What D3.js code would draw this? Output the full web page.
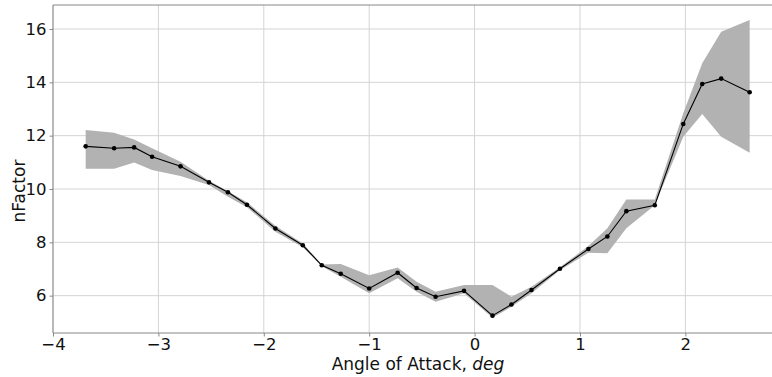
<!DOCTYPE html>
<html>
<head>
<meta charset="utf-8">
<script src="https://cdn.jsdelivr.net/npm/d3@7"></script>
<style>
  html, body { margin: 0; padding: 0; background: #fff; }
  svg { display: block; font-family: "DejaVu Sans", sans-serif; }
</style>
</head>
<body>
<svg id="chart" width="772" height="377"></svg>
<script>
// Angle of attack (deg) and the mean nFactor at each angle
const aoa = [-3.69, -3.42, -3.23, -3.06, -2.79, -2.52, -2.34, -2.16, -1.89, -1.63,
             -1.45, -1.27, -1.00, -0.73, -0.55, -0.37, -0.10, 0.17, 0.35, 0.54,
             0.81, 1.08, 1.26, 1.44, 1.71, 1.98, 2.16, 2.34, 2.61];
const nFactor = [11.60, 11.53, 11.56, 11.21, 10.85, 10.25, 9.88, 9.41, 8.52, 7.89,
                 7.14, 6.82, 6.27, 6.86, 6.29, 5.96, 6.18, 5.25, 5.67, 6.21,
                 7.01, 7.75, 8.22, 9.17, 9.39, 12.44, 13.94, 14.14, 13.63];
// Spread envelope around the mean
const upper = [12.21, 12.11, 11.86, 11.53, 11.02, 10.31, 9.92, 9.50, 8.62, 7.96,
               7.17, 7.19, 6.77, 7.06, 6.52, 6.15, 6.40, 6.40, 5.96, 6.33,
               7.07, 7.86, 8.53, 9.61, 9.61, 12.84, 14.72, 15.90, 16.34];
const lower = [10.76, 10.76, 10.99, 10.71, 10.49, 10.15, 9.71, 9.32, 8.40, 7.82,
               7.10, 6.71, 6.09, 6.65, 6.15, 5.77, 6.09, 5.17, 5.58, 6.09,
               6.95, 7.61, 7.59, 8.53, 9.39, 11.96, 12.81, 11.96, 11.36];

const xTicks = [-4, -3, -2, -1, 0, 1, 2];
const yTicks = [6, 8, 10, 12, 14, 16];

const svg = d3.select("#chart");
const plot = {left: 53, right: 772, top: 5, bottom: 333};

const x = d3.scaleLinear().domain([-4, 2.822]).range([plot.left, plot.right]);
const y = d3.scaleLinear().domain([4.60, 16.90]).range([plot.bottom, plot.top]);

const tickFmt = d => (d < 0 ? "\u2212" + Math.abs(d) : String(d));

// grid
const grid = svg.append("g");
grid.selectAll("line.gx").data(xTicks).join("line")
  .attr("x1", d => x(d)).attr("x2", d => x(d))
  .attr("y1", plot.top).attr("y2", plot.bottom)
  .attr("stroke", "#d4d4d4").attr("stroke-width", 1);
grid.selectAll("line.gy").data(yTicks).join("line")
  .attr("x1", plot.left).attr("x2", plot.right)
  .attr("y1", d => y(d)).attr("y2", d => y(d))
  .attr("stroke", "#d4d4d4").attr("stroke-width", 1);

// spread band
const pts = aoa.map((a, i) => ({a, m: nFactor[i], hi: upper[i], lo: lower[i]}));
svg.append("path")
  .datum(pts)
  .attr("fill", "#b2b2b2")
  .attr("d", d3.area().x(d => x(d.a)).y0(d => y(d.lo)).y1(d => y(d.hi)));

// mean line and markers
svg.append("path")
  .datum(pts)
  .attr("fill", "none").attr("stroke", "#000").attr("stroke-width", 1.1)
  .attr("d", d3.line().x(d => x(d.a)).y(d => y(d.m)));
svg.selectAll("circle.pt").data(pts).join("circle")
  .attr("cx", d => x(d.a)).attr("cy", d => y(d.m)).attr("r", 2.3)
  .attr("fill", "#000");

// axes
const xAxis = d3.axisBottom(x).tickValues(xTicks).tickFormat(tickFmt).tickSize(3.5).tickPadding(2);
const yAxis = d3.axisLeft(y).tickValues(yTicks).tickFormat(tickFmt).tickSize(3.5).tickPadding(3);

const gx = svg.append("g").attr("transform", `translate(0,${plot.bottom})`).call(xAxis);
const gy = svg.append("g").attr("transform", `translate(${plot.left},0)`).call(yAxis);
[gx, gy].forEach(g => {
  g.select(".domain").remove();
  g.selectAll(".tick line").attr("stroke", "#888");
  g.selectAll(".tick text").attr("fill", "#111").style("font-size", "16.5px")
    .style("font-family", "DejaVu Sans, sans-serif");
});

// spines
svg.append("line").attr("x1", plot.left).attr("x2", plot.right).attr("y1", plot.bottom).attr("y2", plot.bottom)
  .attr("stroke", "#888").attr("stroke-width", 1);
svg.append("line").attr("x1", plot.left).attr("x2", plot.right).attr("y1", plot.top).attr("y2", plot.top)
  .attr("stroke", "#888").attr("stroke-width", 1);
svg.append("line").attr("x1", plot.left).attr("x2", plot.left).attr("y1", plot.top).attr("y2", plot.bottom)
  .attr("stroke", "#888").attr("stroke-width", 1);

// axis titles
const xt = svg.append("text").attr("x", 418).attr("y", 369.5).attr("text-anchor", "middle")
  .attr("fill", "#111").style("font-size", "17px");
xt.append("tspan").text("Angle of Attack, ");
xt.append("tspan").style("font-style", "italic").text("deg");

svg.append("text")
  .attr("transform", "translate(25,191) rotate(-90)")
  .attr("text-anchor", "middle").attr("fill", "#111").style("font-size", "17px")
  .text("nFactor");
</script>
</body>
</html>
